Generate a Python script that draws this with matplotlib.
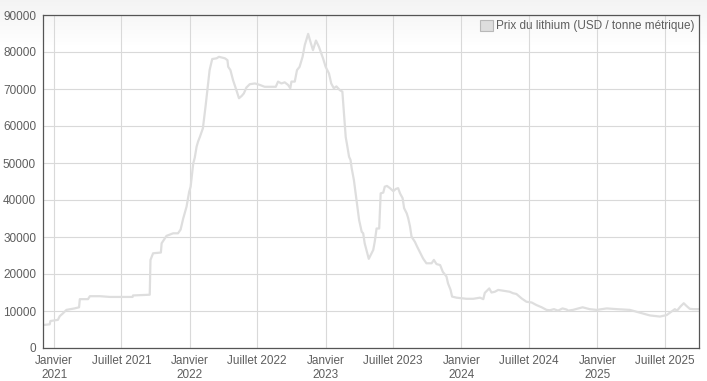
import numpy as np
import pandas as pd
import matplotlib
matplotlib.use("Agg")
import matplotlib.pyplot as plt
from matplotlib.patches import Patch

# -----------------------------
# Data
# -----------------------------

dates = [
    "2020-12-02", "2020-12-20", "2020-12-22", "2021-01-11", "2021-01-16",
    "2021-01-25", "2021-02-03", "2021-02-14", "2021-02-25", "2021-03-09",
    "2021-03-11", "2021-04-02", "2021-04-07", "2021-05-04", "2021-05-31",
    "2021-07-31", "2021-08-01", "2021-09-15", "2021-09-17", "2021-09-24",
    "2021-10-15", "2021-10-17", "2021-10-30", "2021-11-17", "2021-11-30",
    "2021-12-07", "2021-12-14", "2021-12-23", "2021-12-30", "2022-01-03",
    "2022-01-10", "2022-01-14", "2022-01-19", "2022-01-23", "2022-01-28",
    "2022-02-05", "2022-02-12", "2022-02-19", "2022-02-23", "2022-03-02",
    "2022-03-14", "2022-03-20", "2022-04-05", "2022-04-12", "2022-04-14",
    "2022-04-20", "2022-04-27", "2022-05-06", "2022-05-13", "2022-05-20",
    "2022-05-26", "2022-06-02", "2022-06-11", "2022-06-25", "2022-07-08",
    "2022-07-21", "2022-08-20", "2022-08-26", "2022-09-04", "2022-09-13",
    "2022-09-22", "2022-09-28", "2022-10-01", "2022-10-10", "2022-10-16",
    "2022-10-23", "2022-10-31", "2022-11-06", "2022-11-15", "2022-11-21",
    "2022-11-28", "2022-12-06", "2022-12-14", "2022-12-25", "2023-01-01",
    "2023-01-10", "2023-01-16", "2023-01-23", "2023-01-30", "2023-02-08",
    "2023-02-15", "2023-02-18", "2023-02-21", "2023-02-24", "2023-02-27",
    "2023-03-05", "2023-03-09", "2023-03-12", "2023-03-18", "2023-03-25",
    "2023-04-01", "2023-04-08", "2023-04-12", "2023-04-16", "2023-04-23",
    "2023-04-27", "2023-05-02", "2023-05-09", "2023-05-13", "2023-05-18",
    "2023-05-25", "2023-05-29", "2023-06-05", "2023-06-09", "2023-06-15",
    "2023-06-23", "2023-07-02", "2023-07-09", "2023-07-15", "2023-07-20",
    "2023-07-27", "2023-07-31", "2023-08-07", "2023-08-11", "2023-08-16",
    "2023-08-20", "2023-08-29", "2023-09-04", "2023-09-11", "2023-09-20",
    "2023-09-29", "2023-10-13", "2023-10-19", "2023-10-26", "2023-11-05",
    "2023-11-12", "2023-11-22", "2023-11-26", "2023-12-03", "2023-12-07",
    "2023-12-19", "2024-01-15", "2024-02-02", "2024-02-20", "2024-02-29",
    "2024-03-04", "2024-03-16", "2024-03-22", "2024-03-31", "2024-04-09",
    "2024-04-22", "2024-05-10", "2024-05-19", "2024-05-28", "2024-06-11",
    "2024-06-24", "2024-07-08", "2024-07-21", "2024-08-04", "2024-08-17",
    "2024-08-26", "2024-09-06", "2024-09-17", "2024-09-29", "2024-10-10",
    "2024-10-14", "2024-10-27", "2024-11-22", "2024-12-11", "2024-12-30",
    "2025-01-26", "2025-02-22", "2025-03-29", "2025-04-25", "2025-05-22",
    "2025-06-18", "2025-07-06", "2025-07-15", "2025-07-28", "2025-08-03",
    "2025-08-12", "2025-08-21", "2025-08-28", "2025-09-06", "2025-09-15",
    "2025-10-01",
]

prices = [
    6200, 6400, 7300, 7600, 8600,
    9400, 10300, 10500, 10700, 11000,
    13200, 13200, 14000, 14000, 13800,
    13800, 14200, 14400, 23800, 25600,
    25800, 28300, 30300, 31000, 31000,
    32000, 35000, 38200, 42200, 43600,
    49900, 51400, 54400, 55800, 57100,
    59400, 65200, 71500, 75100, 78100,
    78300, 78700, 78300, 77800, 76000,
    75100, 72400, 69700, 67500, 68100,
    68800, 70400, 71300, 71500, 71100,
    70600, 70600, 72000, 71500, 71800,
    71100, 70200, 72000, 72000, 75100,
    76000, 78700, 81900, 84900, 82800,
    80500, 83100, 81400, 78300, 76000,
    74200, 71500, 70200, 70700, 69700,
    69300, 65200, 60700, 57000, 55300,
    51700, 50800, 48600, 45400, 40000,
    34600, 31400, 31000, 28300, 25600,
    24100, 25100, 26500, 28700, 32300,
    32300, 41800, 42000, 43600, 43800,
    43200, 42400, 43000, 43200, 41800,
    40500, 37800, 36400, 35100, 32800,
    30100, 28700, 27400, 26000, 24200,
    22900, 22900, 23800, 22700, 22400,
    20600, 19300, 17500, 15700, 13900,
    13600, 13300, 13300, 13600, 13200,
    14900, 16100, 15000, 15200, 15700,
    15500, 15200, 14800, 14600, 13400,
    12500, 12300, 11600, 11000, 10300,
    10200, 10500, 10100, 10700, 10400,
    10100, 10300, 11000, 10500, 10300,
    10700, 10500, 10300, 9550, 8800,
    8500, 8900, 9550, 10500, 10100,
    11200, 12100, 11400, 10600, 10500,
    10500,
]

tick_dates = ["2021-01-01", "2021-07-01", "2022-01-01", "2022-07-01",
              "2023-01-01", "2023-07-01", "2024-01-01", "2024-07-01",
              "2025-01-01", "2025-07-01"]
tick_labels = ["Janvier\n2021", "Juillet 2021", "Janvier\n2022", "Juillet 2022",
               "Janvier\n2023", "Juillet 2023", "Janvier\n2024", "Juillet 2024",
               "Janvier\n2025", "Juillet 2025"]

series_label = "Prix du lithium (USD / tonne métrique)"

x = pd.to_datetime(dates)

# -----------------------------
# Plot
# -----------------------------

plt.rcParams["font.family"] = ["Liberation Sans", "DejaVu Sans"]

W, H = 707, 381
fig = plt.figure(figsize=(W / 100, H / 100), dpi=100)
fig.patch.set_facecolor("white")

# faint grey shade at the top of the screenshot
bg = fig.add_axes([0, 0, 1, 1], zorder=-10)
rows = np.arange(H)
grad = (1 - 0.045 * np.clip(1 - rows / 45.0, 0, 1))[:, None]
bg.imshow(np.dstack([grad, grad, grad]), aspect="auto", extent=[0, 1, 0, 1],
          origin="upper", vmin=0, vmax=1)
bg.axis("off")

ax = fig.add_axes([43 / W, (H - 348) / H, (699 - 43) / W, (348 - 15) / H])
ax.patch.set_alpha(0)

ax.plot(x, prices, color="#dedede", linewidth=1.6, label=series_label,
        solid_joinstyle="round")

ax.set_xlim(pd.Timestamp("2020-12-02"), pd.Timestamp("2025-10-01"))
ax.set_ylim(0, 90000)
ax.set_yticks(range(0, 90001, 10000))
ax.set_xticks(pd.to_datetime(tick_dates))
ax.set_xticklabels(tick_labels)

ax.grid(True, color="#d9d9d9", linewidth=0.8)
ax.set_axisbelow(True)
for s in ax.spines.values():
    s.set_color("#555555")
    s.set_linewidth(0.9)

ax.tick_params(axis="both", length=0, labelsize=8.5, labelcolor="#5e5e5e")
ax.tick_params(axis="y", pad=5)
ax.tick_params(axis="x", pad=5)

handle = Patch(facecolor="#dedede", edgecolor="#b8b8b8", linewidth=0.8)
ax.legend([handle], [series_label], loc="upper right", frameon=False,
          fontsize=8.5, labelcolor="#5e5e5e", handlelength=1.1, handleheight=1.1,
          handletextpad=0.25, borderaxespad=0.0, borderpad=0.4)

fig.savefig("out.png", dpi=100)
